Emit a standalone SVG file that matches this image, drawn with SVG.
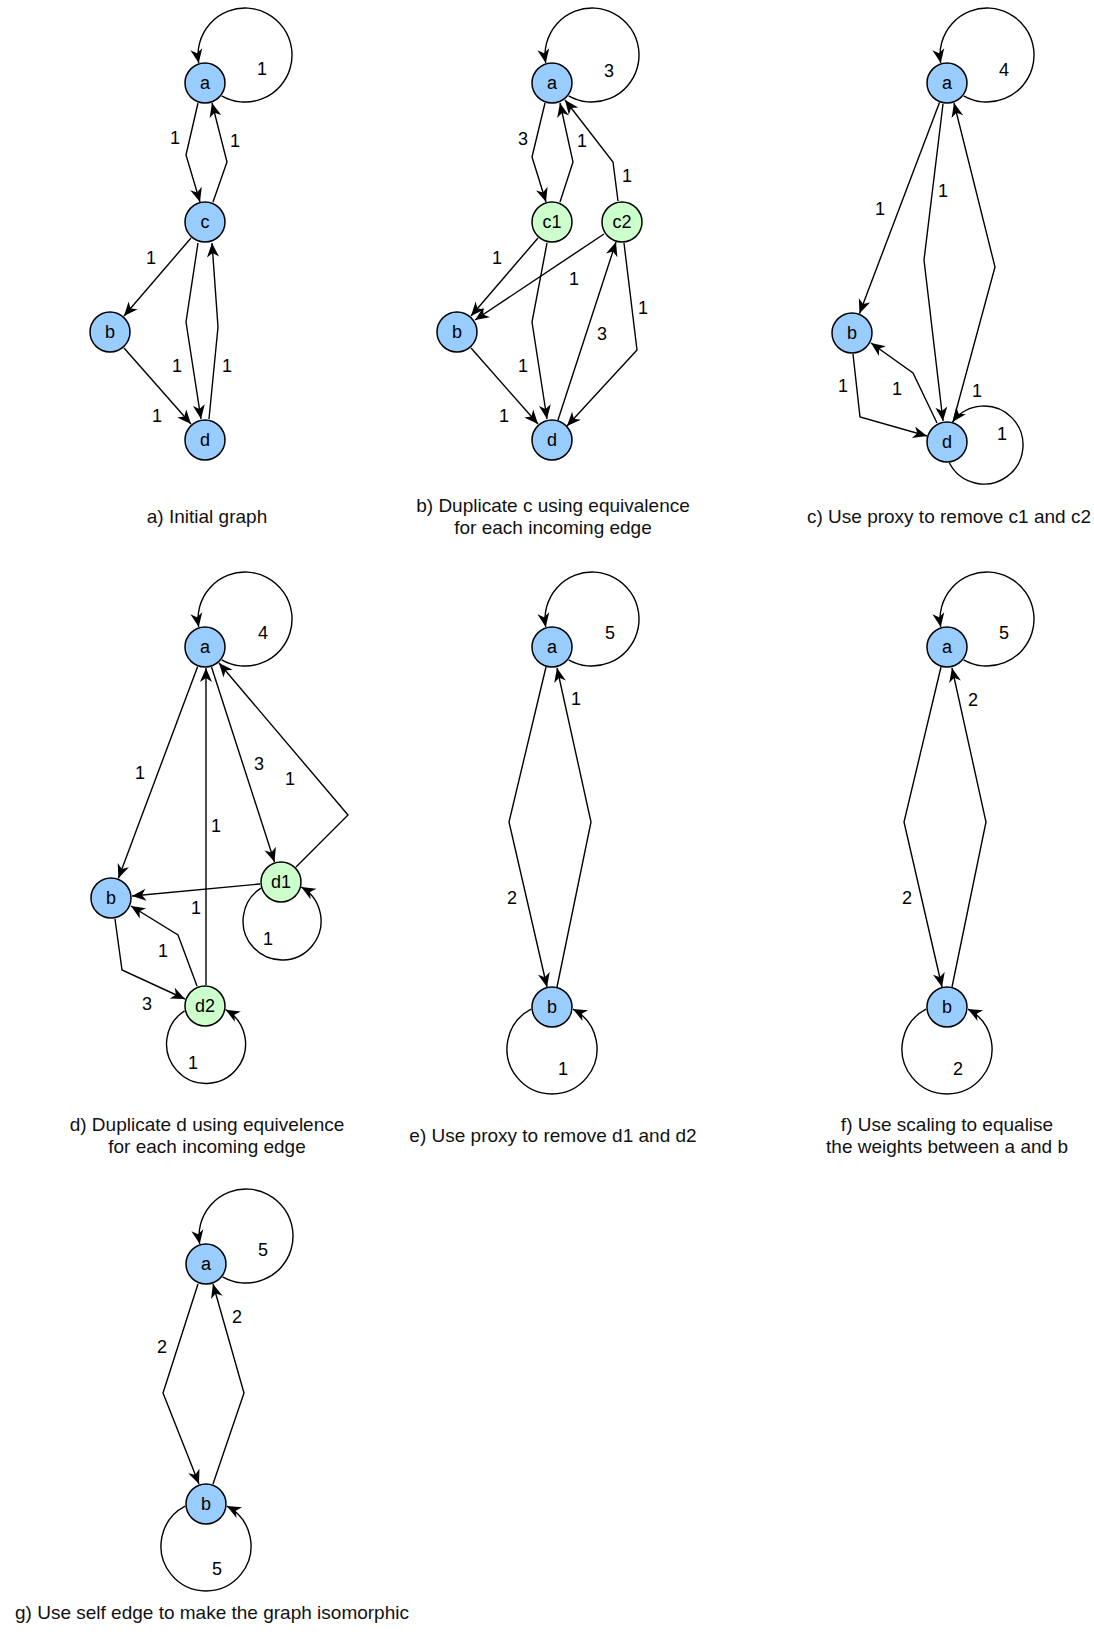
<svg xmlns="http://www.w3.org/2000/svg" width="1094" height="1636" viewBox="0 0 1094 1636">
<defs>
<style>
.nc{stroke:#000;stroke-width:1.5}
.blue{fill:#99ccff}
.green{fill:#ccffcc}
.nl{font-family:"Liberation Sans",Arial,sans-serif;font-size:18px;text-anchor:middle;fill:#000}
.e{fill:none;stroke:#000;stroke-width:1.4;marker-end:url(#arr)}
.el{font-family:"Liberation Sans",Arial,sans-serif;font-size:18px;text-anchor:middle;fill:#000}
.cap{font-family:"Liberation Sans",Arial,sans-serif;font-size:19px;text-anchor:middle;fill:#111}
</style>
<marker id="arr" viewBox="-15 -7 16 14" refX="0" refY="0" markerWidth="16" markerHeight="14" markerUnits="userSpaceOnUse" orient="auto">
<path d="M0,0 L-14,-6 L-10,0 L-14,6 Z" fill="#000"/>
</marker>
</defs>
<rect width="1094" height="1636" fill="#fff"/>

<g id="connectors">
<!-- panel a -->
<path class="e" d="M221.6,95.8 A47,47 0 1 0 198.7,63"/>
<path class="e" d="M198,103 L186,155 L200,202"/>
<path class="e" d="M213,202 L227,162 L212,103"/>
<path class="e" d="M191,238 L124,316"/>
<path class="e" d="M198,243 L186,322 L201,419"/>
<path class="e" d="M209,419 L218,327 L212,243"/>
<path class="e" d="M124,348 L191,424"/>
<!-- panel b -->
<path class="e" d="M568.6,95.8 A47,47 0 1 0 545.7,63"/>
<path class="e" d="M545,103 L532,157 L546,202"/>
<path class="e" d="M560,202 L573,162 L560,103"/>
<path class="e" d="M618,201 L613,162 L565,100"/>
<path class="e" d="M538,238 L471,316"/>
<path class="e" d="M604,234 L475,320"/>
<path class="e" d="M547,243 L532,322 L547,419"/>
<path class="e" d="M558,420 L616,242"/>
<path class="e" d="M624,243 L637,350 L567,426"/>
<path class="e" d="M471,348 L538,424"/>
<!-- panel c -->
<path class="e" d="M963.6,95.8 A47,47 0 1 0 940.7,63"/>
<path class="e" d="M939.5,102.6 L859.5,313.4"/>
<path class="e" d="M943,104 L924,260 L943,421"/>
<path class="e" d="M953,422 L995,267 L954,103"/>
<path class="e" d="M853,354 L860,417 L927,436"/>
<path class="e" d="M937,423 L913,373 L871,343"/>
<path class="e" d="M949.3,462.8 A39,39 0 1 0 952.7,421.8"/>
<!-- panel d -->
<path class="e" d="M221.6,659.8 A47,47 0 1 0 198.7,627"/>
<path class="e" d="M197.6,666.7 L118.4,878.3"/>
<path class="e" d="M206,985 L206,668"/>
<path class="e" d="M211.5,667 L274.5,862"/>
<path class="e" d="M296,867 L348,815 L219,663"/>
<path class="e" d="M260,884 L132,896"/>
<path class="e" d="M261,888.2 A39,39 0 1 0 301.3,887.1"/>
<path class="e" d="M115,919 L122,970 L185,999"/>
<path class="e" d="M197,986 L178,935 L131,906"/>
<path class="e" d="M184.6,1010.8 A39.5,39.5 0 1 0 225.7,1009.7"/>
<!-- panel e -->
<path class="e" d="M568.6,659.8 A47,47 0 1 0 545.7,627"/>
<path class="e" d="M546,667 L509,822 L547,987"/>
<path class="e" d="M557,987 L591,822 L557,668"/>
<path class="e" d="M531.1,1009.1 A45,45 0 1 0 572.9,1009.1"/>
<!-- panel f -->
<path class="e" d="M963.6,659.8 A47,47 0 1 0 940.7,627"/>
<path class="e" d="M941,667 L904,822 L942,987"/>
<path class="e" d="M952,987 L986,822 L952,668"/>
<path class="e" d="M926.1,1009.1 A45,45 0 1 0 967.9,1009.1"/>
<!-- panel g -->
<path class="e" d="M222.6,1276.8 A47,47 0 1 0 199.7,1244"/>
<path class="e" d="M198,1284 L163,1393 L199,1484"/>
<path class="e" d="M213,1484 L244,1393 L213,1284"/>
<path class="e" d="M185.1,1506.1 A45,45 0 1 0 226.9,1506.1"/>
</g>

<g id="edge-labels">
<!-- a -->
<text class="el" x="262" y="74.5">1</text>
<text class="el" x="175" y="143.5">1</text>
<text class="el" x="235" y="146.5">1</text>
<text class="el" x="151" y="263.5">1</text>
<text class="el" x="177" y="371.5">1</text>
<text class="el" x="227" y="371.5">1</text>
<text class="el" x="157" y="421.5">1</text>
<!-- b -->
<text class="el" x="609" y="76.5">3</text>
<text class="el" x="523" y="144.5">3</text>
<text class="el" x="582" y="146.5">1</text>
<text class="el" x="627" y="181.5">1</text>
<text class="el" x="497" y="263.5">1</text>
<text class="el" x="574" y="284.5">1</text>
<text class="el" x="643" y="313.5">1</text>
<text class="el" x="602" y="339.5">3</text>
<text class="el" x="523" y="371.5">1</text>
<text class="el" x="504" y="421.5">1</text>
<!-- c -->
<text class="el" x="1004" y="75.5">4</text>
<text class="el" x="943" y="196.5">1</text>
<text class="el" x="880" y="214.5">1</text>
<text class="el" x="843" y="391.5">1</text>
<text class="el" x="897" y="394.5">1</text>
<text class="el" x="977" y="396.5">1</text>
<text class="el" x="1002" y="439.5">1</text>
<!-- d -->
<text class="el" x="263" y="638.5">4</text>
<text class="el" x="259" y="769.5">3</text>
<text class="el" x="140" y="778.5">1</text>
<text class="el" x="290" y="784.5">1</text>
<text class="el" x="216" y="831.5">1</text>
<text class="el" x="196" y="913.5">1</text>
<text class="el" x="268" y="944.5">1</text>
<text class="el" x="163" y="956.5">1</text>
<text class="el" x="147" y="1009.5">3</text>
<text class="el" x="193" y="1068.5">1</text>
<!-- e -->
<text class="el" x="610" y="638.5">5</text>
<text class="el" x="576" y="704.5">1</text>
<text class="el" x="512" y="903.5">2</text>
<text class="el" x="563" y="1074.5">1</text>
<!-- f -->
<text class="el" x="1004" y="638.5">5</text>
<text class="el" x="973" y="705.5">2</text>
<text class="el" x="907" y="903.5">2</text>
<text class="el" x="958" y="1074.5">2</text>
<!-- g -->
<text class="el" x="263" y="1255.5">5</text>
<text class="el" x="237" y="1322.5">2</text>
<text class="el" x="162" y="1352.5">2</text>
<text class="el" x="217" y="1574.5">5</text>
</g>

<!-- panel a nodes -->
<g id="pa-a"><circle class="nc blue" cx="205" cy="83" r="20"/><text class="nl" x="205" y="89">a</text></g>
<g id="pa-c"><circle class="nc blue" cx="205" cy="222" r="20"/><text class="nl" x="205" y="228">c</text></g>
<g id="pa-b"><circle class="nc blue" cx="110" cy="332" r="20"/><text class="nl" x="110" y="338">b</text></g>
<g id="pa-d"><circle class="nc blue" cx="205" cy="440" r="20"/><text class="nl" x="205" y="446">d</text></g>
<!-- panel b nodes -->
<g id="pb-a"><circle class="nc blue" cx="552" cy="83" r="20"/><text class="nl" x="552" y="89">a</text></g>
<g id="pb-c1"><circle class="nc green" cx="552" cy="222" r="20"/><text class="nl" x="552" y="228">c1</text></g>
<g id="pb-c2"><circle class="nc green" cx="622" cy="222" r="20"/><text class="nl" x="622" y="228">c2</text></g>
<g id="pb-b"><circle class="nc blue" cx="457" cy="332" r="20"/><text class="nl" x="457" y="338">b</text></g>
<g id="pb-d"><circle class="nc blue" cx="552" cy="440" r="20"/><text class="nl" x="552" y="446">d</text></g>
<!-- panel c nodes -->
<g id="pc-a"><circle class="nc blue" cx="947" cy="83" r="20"/><text class="nl" x="947" y="89">a</text></g>
<g id="pc-b"><circle class="nc blue" cx="852" cy="333" r="20"/><text class="nl" x="852" y="339">b</text></g>
<g id="pc-d"><circle class="nc blue" cx="947" cy="442" r="20"/><text class="nl" x="947" y="448">d</text></g>
<!-- panel d nodes -->
<g id="pd-a"><circle class="nc blue" cx="205" cy="647" r="20"/><text class="nl" x="205" y="653">a</text></g>
<g id="pd-b"><circle class="nc blue" cx="111" cy="898" r="20"/><text class="nl" x="111" y="904">b</text></g>
<g id="pd-d1"><circle class="nc green" cx="281" cy="882" r="20"/><text class="nl" x="281" y="888">d1</text></g>
<g id="pd-d2"><circle class="nc green" cx="205" cy="1006" r="20"/><text class="nl" x="205" y="1012">d2</text></g>
<!-- panel e nodes -->
<g id="pe-a"><circle class="nc blue" cx="552" cy="647" r="20"/><text class="nl" x="552" y="653">a</text></g>
<g id="pe-b"><circle class="nc blue" cx="552" cy="1007" r="20"/><text class="nl" x="552" y="1013">b</text></g>
<!-- panel f nodes -->
<g id="pf-a"><circle class="nc blue" cx="947" cy="647" r="20"/><text class="nl" x="947" y="653">a</text></g>
<g id="pf-b"><circle class="nc blue" cx="947" cy="1007" r="20"/><text class="nl" x="947" y="1013">b</text></g>
<!-- panel g nodes -->
<g id="pg-a"><circle class="nc blue" cx="206" cy="1264" r="20"/><text class="nl" x="206" y="1270">a</text></g>
<g id="pg-b"><circle class="nc blue" cx="206" cy="1504" r="20"/><text class="nl" x="206" y="1510">b</text></g>

<g id="captions">
<text class="cap" x="207" y="523">a) Initial graph</text>
<text class="cap" x="553" y="512">b) Duplicate c using equivalence</text>
<text class="cap" x="553" y="534">for each incoming edge</text>
<text class="cap" x="949" y="523">c) Use proxy to remove c1 and c2</text>
<text class="cap" x="207" y="1131">d) Duplicate d using equivelence</text>
<text class="cap" x="207" y="1153">for each incoming edge</text>
<text class="cap" x="553" y="1142">e) Use proxy to remove d1 and d2</text>
<text class="cap" x="947" y="1131">f) Use scaling to equalise</text>
<text class="cap" x="947" y="1153">the weights between a and b</text>
<text class="cap" x="212" y="1619">g) Use self edge to make the graph isomorphic</text>
</g>
</svg>
